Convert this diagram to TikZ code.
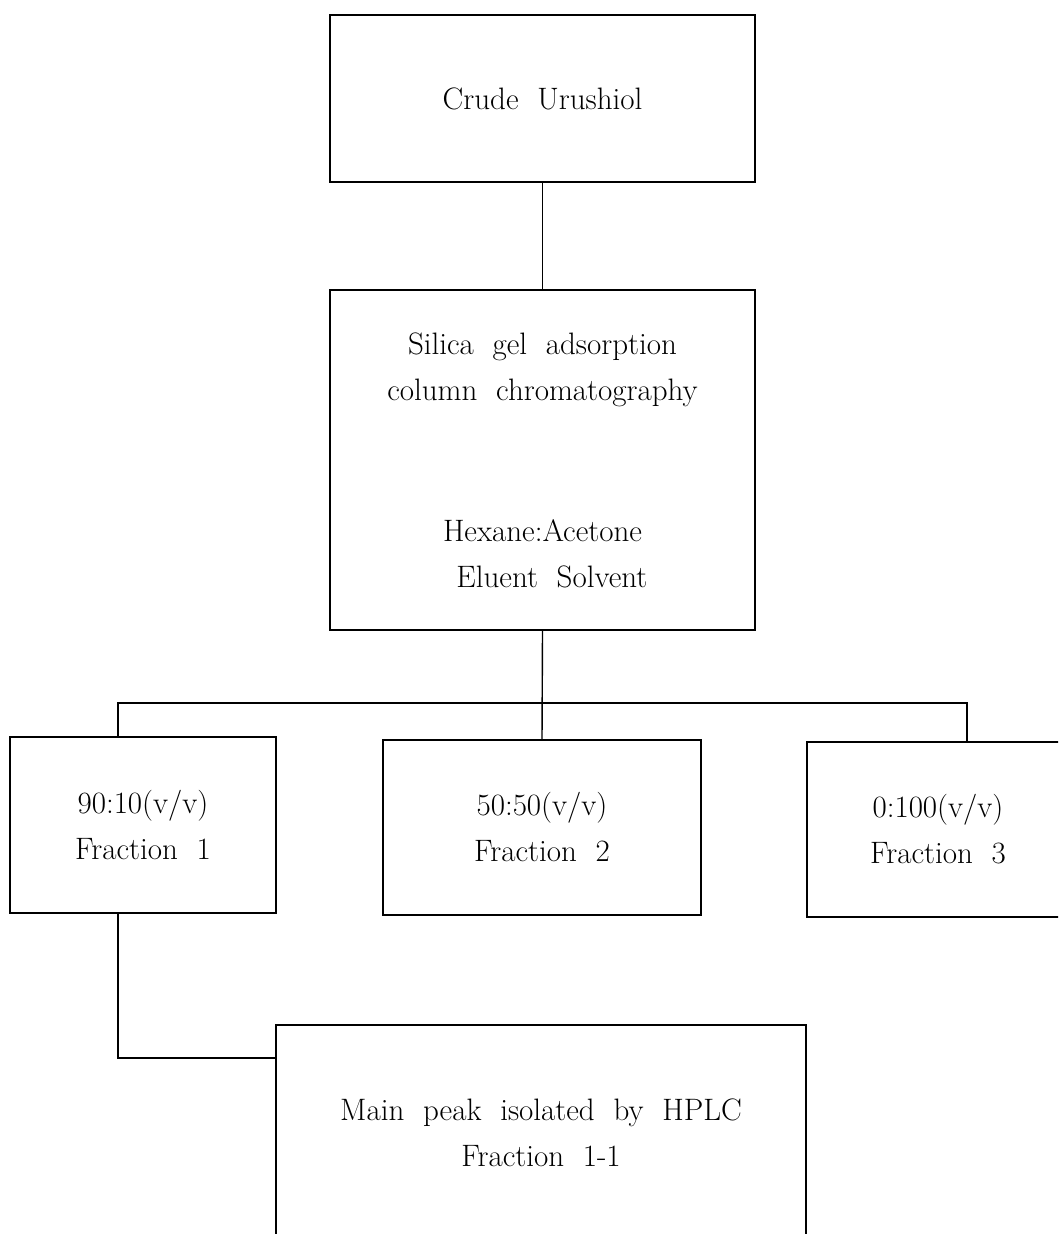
\documentclass[tikz,border=0pt]{standalone}
\usepackage{tikz}
\usetikzlibrary{positioning,calc}

\tikzset{
    stagebox/.style={draw, line width=1.4pt, align=center, inner sep=0pt,
        font=\fontsize{31}{46}\selectfont},
    link/.style={line width=1.4pt}
}

\begin{document}
\begin{tikzpicture}[x=1pt, y=-1pt]
    % Frame
    \useasboundingbox (0,0) rectangle (1058,1234);
    \clip (0,0) rectangle (1058,1234);

    % Stages
    \node[stagebox, minimum width=425pt, minimum height=167pt] (crude) at (542.5,98.5) {Crude\ \ Urushiol};
    \node[stagebox, minimum width=425pt, minimum height=340pt] (silica) at (542.5,460)
        {Silica\ \ gel\ \ adsorption\\column\ \ chromatography\\[95pt]Hexane:Acetone\\\ \ Eluent\ \ Solvent};

    % Fractions
    \node[stagebox, minimum width=266pt, minimum height=176pt] (frac1) at (143,825) {90:10(v/v)\\Fraction\ \ 1};
    \node[stagebox, minimum width=318pt, minimum height=175pt] (frac2) at (542,827.5) {50:50(v/v)\\Fraction\ \ 2};
    \node[stagebox, minimum width=262pt, minimum height=175pt] (frac3) at (938,829.5) {0:100(v/v)\\Fraction\ \ 3};

    % HPLC (runs off the page)
    \node[stagebox, minimum width=530pt, minimum height=216pt] (hplc) at (541,1133) {Main\ \ peak\ \ isolated\ \ by\ \ HPLC\\Fraction\ \ 1-1};

    % Bus line
    \coordinate (busL) at (118,703);
    \coordinate (busR) at (967,703);
    \coordinate (join) at (276,1058);

    % Connectors
    \draw[link] (crude.south) -- (silica.north);
    \draw[link] (silica.south) -- (frac2.north);
    \draw[link] (busL |- frac1.north) -- (busL) -- (busR) -- (busR |- frac3.north);
    \draw[link] (busL |- frac1.south) |- (hplc.west |- join);
\end{tikzpicture}
\end{document}
